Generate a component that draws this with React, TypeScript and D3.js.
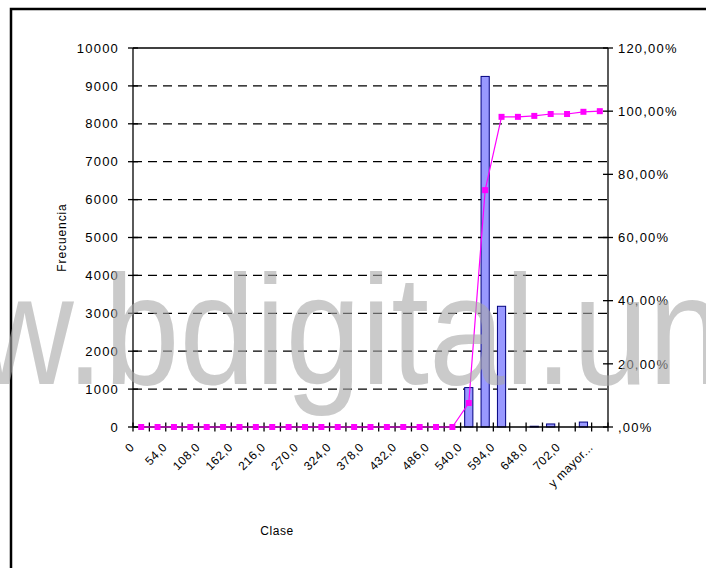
import React from 'react';
import * as d3 from 'd3';

// histogram bins (every other one gets a label on the axis)
const categories = [
  '0', '27,0', '54,0', '81,0', '108,0', '135,0', '162,0', '189,0', '216,0', '243,0',
  '270,0', '297,0', '324,0', '351,0', '378,0', '405,0', '432,0', '459,0', '486,0', '513,0',
  '540,0', '567,0', '594,0', '621,0', '648,0', '675,0', '702,0', '729,0', 'y mayor...'
];

const frecuencia = [
  0, 0, 0, 0, 0, 0, 0, 0, 0, 0,
  0, 0, 0, 0, 0, 0, 0, 0, 0, 0,
  1040, 9250, 3185, 0, 20, 80, 0, 130, 0
];

// cumulative %
const acumulado = [
  0, 0, 0, 0, 0, 0, 0, 0, 0, 0,
  0, 0, 0, 0, 0, 0, 0, 0, 0, 0,
  7.6, 75.0, 98.2, 98.2, 98.5, 99.1, 99.1, 99.8, 100
];

const leftTicks = [0, 1000, 2000, 3000, 4000, 5000, 6000, 7000, 8000, 9000, 10000];
const rightTicks = [0, 20, 40, 60, 80, 100, 120];
const rightTickLabels = [',00%', '20,00%', '40,00%', '60,00%', '80,00%', '100,00%', '120,00%'];

const left = 133, right = 608, top = 48, bottom = 427;
const font = "'Liberation Sans', Arial, sans-serif";

const App: React.FC = () => {
  const x = d3.scaleBand().domain(categories).range([left, right]);
  const y = d3.scaleLinear().domain([0, 10000]).range([bottom, top]);
  const y2 = d3.scaleLinear().domain([0, 120]).range([bottom, top]);
  const bw = x.bandwidth();
  const cx = (c: string) => (x(c) || 0) + bw / 2;

  const pts = categories.map((c, i) => ({ c, v: acumulado[i] }));
  const linePath = d3.line<{ c: string; v: number }>()
    .x(d => cx(d.c))
    .y(d => y2(d.v))(pts) || '';

  const bounds = [...categories.map(c => x(c) || 0), right];
  const ly = bottom + 21;

  return (
    <svg width={706} height={568} style={{ position: 'absolute', left: 0, top: 0 }}>
      <rect width={706} height={568} fill="#fff" />
      {/* outer frame, runs off the right and bottom edges */}
      <rect x={11} y={9} width={740} height={620} fill="none" stroke="#000" strokeWidth={2.5} />

      {/* gridlines */}
      {leftTicks.filter(d => d > 0).map(d => (
        <line key={`g${d}`} x1={left} x2={right} y1={y(d)} y2={y(d)}
          stroke="#000" strokeWidth={1.3}
          strokeDasharray={d === 10000 ? undefined : '9,6'} />
      ))}

      {/* bars */}
      {categories.map((c, i) => frecuencia[i] > 0 && (
        <rect key={`b${i}`} x={(x(c) || 0) + bw * 0.25} width={bw * 0.5}
          y={y(frecuencia[i])} height={bottom - y(frecuencia[i])}
          fill="#9999ff" stroke="#000080" strokeWidth={1} />
      ))}

      {/* axes */}
      <g stroke="#000" strokeWidth={1.3}>
        <line x1={left} x2={left} y1={top} y2={bottom} />
        <line x1={right} x2={right} y1={top} y2={bottom} />
        <line x1={left} x2={right} y1={bottom} y2={bottom} />
        {leftTicks.map(d => <line key={`lt${d}`} x1={left - 5} x2={left + 5} y1={y(d)} y2={y(d)} />)}
        {rightTicks.map(d => <line key={`rt${d}`} x1={right - 5} x2={right + 5} y1={y2(d)} y2={y2(d)} />)}
        {bounds.map((b, i) => <line key={`xt${i}`} x1={b} x2={b} y1={bottom - 4.5} y2={bottom + 4.5} />)}
      </g>

      {/* tick labels */}
      <g fontFamily={font} fontSize={13} letterSpacing={1.2} fill="#000">
        {leftTicks.map(d => (
          <text key={`ll${d}`} x={left - 14} y={y(d)} dy="0.36em" textAnchor="end">{d}</text>
        ))}
        {rightTicks.map((d, i) => (
          <text key={`rl${d}`} x={right + 10} y={y2(d)} dy="0.36em">{rightTickLabels[i]}</text>
        ))}
      </g>
      <g fontFamily={font} fontSize={12} letterSpacing={0.5} fill="#000">
        {categories.map((c, i) => i % 2 === 0 && (
          <text key={`xl${i}`} x={cx(c) - 6} y={ly} textAnchor="end"
            transform={`rotate(-45 ${cx(c) - 6} ${ly})`}>{c}</text>
        ))}
      </g>

      {/* cumulative % line */}
      <path d={linePath} fill="none" stroke="#ff00ff" strokeWidth={1.2} />
      {pts.map((p, i) => (
        <rect key={`m${i}`} x={cx(p.c) - 3} y={y2(p.v) - 3} width={6} height={6} fill="#ff00ff" />
      ))}

      {/* axis titles */}
      <text transform={`translate(66,${(top + bottom) / 2}) rotate(-90)`} textAnchor="middle"
        fontFamily={font} fontSize={12} letterSpacing={0.9} fill="#000">Frecuencia</text>
      <text x={277} y={535} textAnchor="middle" fontFamily={font} fontSize={12}
        letterSpacing={0.6} fill="#000">Clase</text>

      {/* watermark over the chart */}
      <text transform="translate(-221,384) scale(1,1.15)" fontFamily={font} fontSize={136}
        fill="#a8a8a8" opacity={0.6}>www.bdigital.unal.edu.co</text>
    </svg>
  );
};

export default App;
